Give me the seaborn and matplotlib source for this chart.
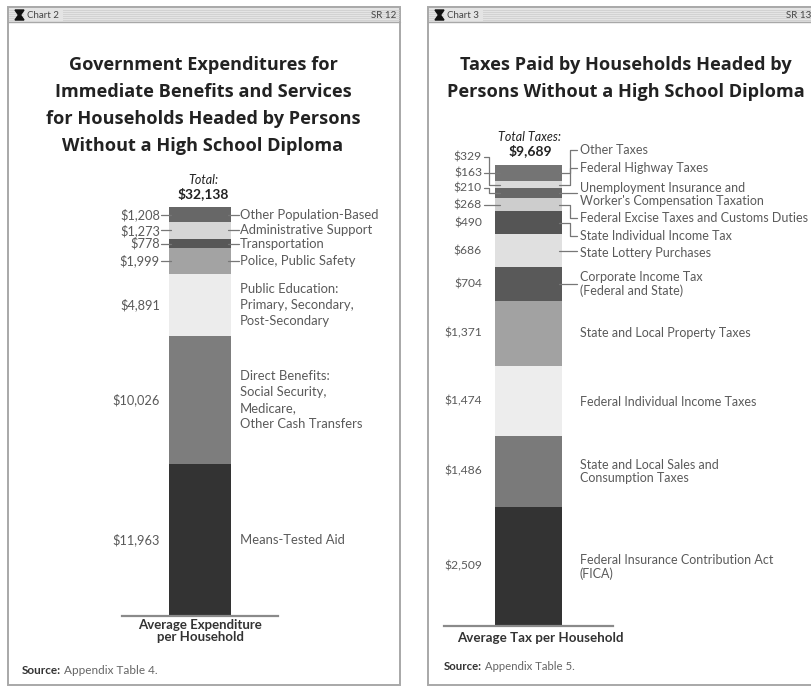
import numpy as np
import pandas as pd
import seaborn as sns
import matplotlib.pyplot as plt
from matplotlib.patches import Rectangle, Polygon
from matplotlib.lines import Line2D

# Chart 2: government expenditures, bottom of the bar to the top
exp_items = ["Means-Tested Aid",
             "Direct Benefits:\nSocial Security,\nMedicare,\nOther Cash Transfers",
             "Public Education:\nPrimary, Secondary,\nPost-Secondary",
             "Police, Public Safety",
             "Transportation",
             "Administrative Support",
             "Other Population-Based"]
exp_values = [11963, 10026, 4891, 1999, 778, 1273, 1208]
exp_total = "$32,138"

# Chart 3: taxes paid, bottom of the bar to the top
tax_items = ["Federal Insurance Contribution Act\n(FICA)",
             "State and Local Sales and\nConsumption Taxes",
             "Federal Individual Income Taxes",
             "State and Local Property Taxes",
             "Corporate Income Tax\n(Federal and State)",
             "State Lottery Purchases",
             "State Individual Income Tax",
             "Federal Excise Taxes and Customs Duties",
             "Unemployment Insurance and\nWorker's Compensation Taxation",
             "Federal Highway Taxes",
             "Other Taxes"]
tax_values = [2509, 1486, 1474, 1371, 704, 686, 490, 268, 210, 163, 329]
tax_total = "$9,689"

exp_colors = ["#333333", "#7d7d7d", "#ececec", "#a3a3a3", "#575757", "#d6d6d6", "#676767"]
tax_colors = ["#333333", "#7a7a7a", "#ededed", "#a2a2a2", "#595959", "#e0e0e0",
              "#555555", "#cdcdcd", "#676767", "#dadada", "#747474"]

sns.set_theme(style="white")
plt.rcParams['font.family'] = ['Lato', 'DejaVu Sans']

W, H = 812, 688
fig = plt.figure(figsize=(W / 100, H / 100), dpi=100)
fig.patch.set_facecolor("white")

def fx(x): return x / W
def fy(y): return 1 - y / H

def box(x0, y0, x1, y1, **kw):
    fig.add_artist(Rectangle((fx(x0), fy(y1)), (x1 - x0) / W, (y1 - y0) / H,
                             transform=fig.transFigure, **kw))

def line(xs, ys, **kw):
    kw.setdefault("color", "#777777")
    kw.setdefault("lw", 0.9)
    fig.add_artist(Line2D([fx(x) for x in xs], [fy(y) for y in ys],
                          transform=fig.transFigure, **kw))

def txt(x, y, s, **kw):
    kw.setdefault("va", "center")
    kw.setdefault("color", "#5a5a5a")
    return fig.text(fx(x), fy(y), s, **kw)

def ypx(ax, v):
    return H - ax.transData.transform((0, v))[1]

def panel(x0, x1, name):
    box(x0, 7, x1, 685, facecolor="white", edgecolor="#a8a8a8", lw=1.4, zorder=0)
    box(x0 + 1, 8, x1 - 1, 22, facecolor="#e4e4e4", edgecolor="none", zorder=0.5)
    for yy in np.arange(10, 21, 2):
        line([x0 + 1, x1 - 1], [yy, yy], color="#cfcfcf", lw=0.6, zorder=0.6)
    line([x0, x1], [22, 22], color="#a8a8a8", lw=1.0)
    box(x0 + 16, 9, x0 + 55, 21, facecolor="#e4e4e4", edgecolor="none", zorder=0.7)
    fig.add_artist(Polygon([(fx(x0 + 7), fy(10)), (fx(x0 + 16), fy(10)), (fx(x0 + 12.5), fy(15)),
                            (fx(x0 + 16), fy(20)), (fx(x0 + 7), fy(20)), (fx(x0 + 10.5), fy(15))],
                           closed=True, transform=fig.transFigure, color="#111111", zorder=1))
    txt(x0 + 19, 15, name, fontsize=7, color="#444444", zorder=1)

def stacked(ax, items, values, colors):
    df = pd.DataFrame({"item": items, "value": values})
    df["top"] = df["value"].cumsum()
    df["mid"] = df["top"] - df["value"] / 2
    df["bar"] = "all"
    sns.barplot(data=df, x="bar", y="top", hue="item", hue_order=list(df["item"][::-1]),
                palette=dict(zip(items, colors)), dodge=False, width=0.4, saturation=1,
                errorbar=None, legend=False, linewidth=0, ax=ax)
    ax.set_xlim(-0.5, 0.5)
    ax.set_ylim(0, df["top"].iloc[-1])
    ax.set_xticks([])
    ax.set_yticks([])
    ax.set_xlabel("")
    ax.set_ylabel("")
    for s in ["top", "left", "right"]:
        ax.spines[s].set_visible(False)
    ax.spines["bottom"].set_color("#8a8a8a")
    ax.spines["bottom"].set_linewidth(1.6)
    ax.patch.set_alpha(0)
    return df

# ---------------- Chart 2 ----------------
panel(8, 400, "Chart 2")
txt(396, 15, "SR 12", fontsize=7, color="#444444", ha="right")
title2 = ["Government Expenditures for", "Immediate Benefits and Services",
          "for Households Headed by Persons", "Without a High School Diploma"]
for i, t in enumerate(title2):
    txt(203, 65 + 27 * i, t, ha="center", fontsize=13.1, fontweight="bold",
        color="#222222", family=["Open Sans", "DejaVu Sans"])
txt(203, 180, "Total:", ha="center", fontsize=9, style="italic", color="#222222")
txt(203, 194, exp_total, ha="center", fontsize=10, fontweight="bold", color="#222222")

ax2 = fig.add_axes([fx(122), fy(616), 156 / W, (616 - 207) / H])
d2 = stacked(ax2, exp_items, exp_values, exp_colors)
for i, r in d2.iterrows():
    yc = ypx(ax2, r["mid"])
    txt(160, yc, f"${r['value']:,}", ha="right", fontsize=9.2)
    txt(240, yc, r["item"], ha="left", fontsize=9.4, linespacing=1.4)
    if "\n" not in r["item"] and r["value"] < 2500:
        line([161, 171], [yc, yc])
        line([228, 239], [yc, yc])
txt(200, 631, "Average Expenditure\nper Household", ha="center", fontsize=9.5,
    fontweight="bold", color="#333333", linespacing=1.05)
s2 = txt(22, 670, "Source:", ha="left", fontsize=8.5, fontweight="bold", color="#333333")
plt.annotate(" Appendix Table 4.", xy=(1, 0.5), xycoords=s2, va="center",
             fontsize=8.5, color="#666666")

# ---------------- Chart 3 ----------------
panel(428, 840, "Chart 3")
txt(811, 15, "SR 13", fontsize=7, color="#444444", ha="right")
title3 = ["Taxes Paid by Households Headed by", "Persons Without a High School Diploma"]
for i, t in enumerate(title3):
    txt(626, 65 + 27 * i, t, ha="center", fontsize=13.1, fontweight="bold",
        color="#222222", family=["Open Sans", "DejaVu Sans"])
txt(530, 137, "Total Taxes:", ha="center", fontsize=9, style="italic", color="#222222")
txt(530, 151, tax_total, ha="center", fontsize=10, fontweight="bold", color="#222222")

ax3 = fig.add_axes([fx(444), fy(626), 169 / W, (626 - 165) / H])
d3 = stacked(ax3, tax_items, tax_values, tax_colors)

# label placement (pixels from segment centre), top-down items get spread apart
left_dy = [0, 0, 0, 0, 0, 0, 0, 0, -5, -12, -16]
right_dy = [1, 0, 1, 0, 0, 2, 13, 13, 1, -17, -23]
right_lead = [False, False, False, False, True, True, True, True, True, True, True]
for i, r in d3.iterrows():
    yc = ypx(ax3, r["mid"])
    yl = yc + left_dy[i]
    txt(482, yl, f"${r['value']:,}", ha="right", fontsize=8.7)
    if left_dy[i] != 0:
        line([484, 489, 489, 500], [yl, yl, yc, yc])
    elif i == 7:
        line([484, 500], [yc, yc])
    yr = yc + right_dy[i]
    txt(580, yr, r["item"], ha="left", fontsize=9, linespacing=1.15)
    if right_lead[i]:
        if abs(right_dy[i]) > 4:
            line([559, 570, 570, 577], [yc, yc, yr, yr])
        else:
            line([559, 577], [yc, yc])
txt(540, 638, "Average Tax per Household", ha="center", fontsize=9.6,
    fontweight="bold", color="#333333")
s3 = txt(444, 667, "Source:", ha="left", fontsize=8.2, fontweight="bold", color="#333333")
plt.annotate(" Appendix Table 5.", xy=(1, 0.5), xycoords=s3, va="center",
             fontsize=8.2, color="#666666")

plt.savefig("out.png", dpi=100)
